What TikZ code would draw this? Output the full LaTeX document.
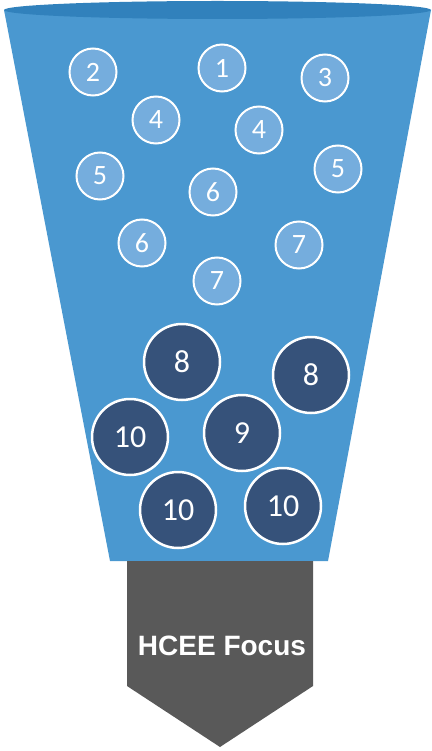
\documentclass[tikz,border=0pt]{standalone}
\usepackage{fontspec}
\setmainfont{Carlito}
\newfontfamily\arialfont{Liberation Sans}
\definecolor{funnelblue}{HTML}{4A98D0}
\definecolor{rimblue}{HTML}{3181BC}
\definecolor{lightball}{HTML}{75ADDD}
\definecolor{darkball}{HTML}{36527A}
\definecolor{arrowgray}{HTML}{595959}
\begin{document}
\begin{tikzpicture}[x=1pt,y=-1pt,
  smallball/.style={circle,draw=white,line width=2pt,fill=lightball,minimum size=47pt,inner sep=0pt,text=white,font=\fontsize{28}{28}\selectfont},
  bigball/.style={circle,draw=white,line width=2.5pt,fill=darkball,minimum size=76pt,inner sep=0pt,text=white,font=\fontsize{32}{32}\selectfont}]
\useasboundingbox (0,0) rectangle (431,751);
% funnel body
\fill[funnelblue] (4,10) -- (431,10) -- (328,561) -- (110,561) -- cycle;
\fill[rimblue] (217.5,10) ellipse [x radius=213.5, y radius=9];
% arrow
\fill[arrowgray] (127,561) -- (313,561) -- (313,686) -- (220,747) -- (127,686) -- cycle;
\node[text=white,font=\arialfont\bfseries\fontsize{28}{28}\selectfont] (focus) at (222,646) {HCEE Focus};
% small balls
\node[smallball] (b2) at (93,72) {2};
\node[smallball] (b1) at (222,68) {1};
\node[smallball] (b3) at (325,78) {3};
\node[smallball] (b4a) at (156,120) {4};
\node[smallball] (b4b) at (259,130) {4};
\node[smallball] (b5a) at (100,176) {5};
\node[smallball] (b5b) at (338,169) {5};
\node[smallball] (b6a) at (213,192) {6};
\node[smallball] (b6b) at (142,243) {6};
\node[smallball] (b7a) at (299,245) {7};
\node[smallball] (b7b) at (217,281) {7};
% big balls
\node[bigball] (c8a) at (182,362) {8};
\node[bigball] (c8b) at (311,375) {8};
\node[bigball] (c10a) at (130,437) {10};
\node[bigball] (c9) at (242,433) {9};
\node[bigball] (c10b) at (178,510) {10};
\node[bigball] (c10c) at (283,506) {10};
\end{tikzpicture}
\end{document}
